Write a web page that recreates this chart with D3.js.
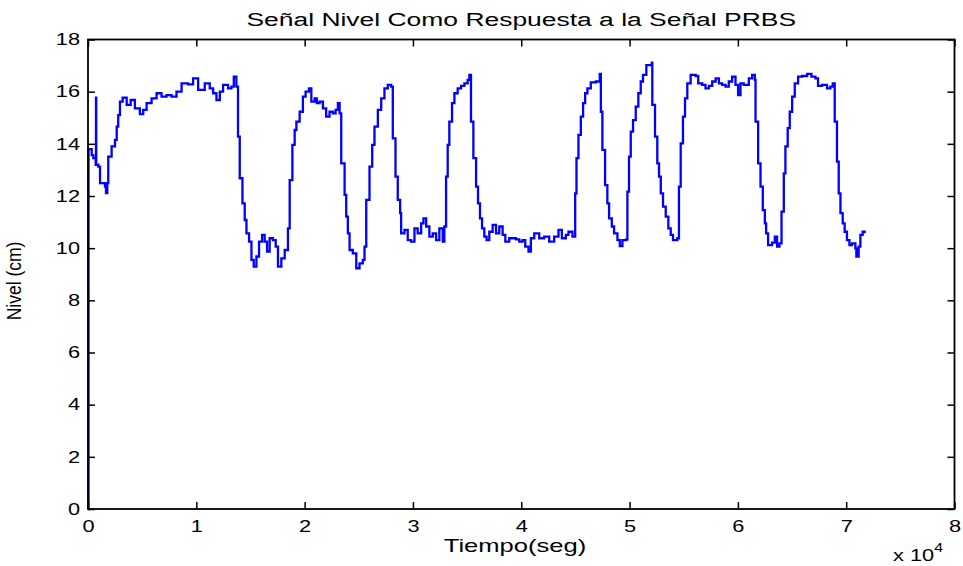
<!DOCTYPE html>
<html>
<head>
<meta charset="utf-8">
<script src="https://cdn.jsdelivr.net/npm/d3@7"></script>
<style>
  html, body { margin: 0; padding: 0; background: #fff; }
  svg { display: block; }
  text { font-family: "Liberation Sans", Arial, Helvetica, sans-serif; fill: #000; }
</style>
</head>
<body>
<svg id="chart" width="963" height="566"></svg>
<script>
// ---- Data ----
const tiempo = [0, 50, 340, 490, 710, 737, 760, 950, 1110, 1570, 1660, 1780, 1870, 2180, 2490, 2650, 2790, 2950, 3200, 3570, 3940, 4330, 4790, 5100, 5410, 5870, 6330, 6790, 7250, 7710, 8170, 8640, 9240, 9700, 10170, 10780, 11240, 11550, 11860, 12170, 12470, 12930, 13240, 13460, 13700, 13850, 14010, 14260, 14470, 14630, 14870, 15090, 15300, 15550, 15790, 16070, 16310, 16530, 16770, 17080, 17330, 17540, 17850, 18160, 18460, 18620, 18870, 19080, 19240, 19540, 19840, 20090, 20400, 20620, 20920, 21130, 21380, 21690, 21990, 22300, 22610, 22860, 23070, 23230, 23380, 23690, 23840, 23990, 24150, 24450, 24770, 25070, 25370, 25530, 25690, 25990, 26240, 26450, 26760, 27070, 27370, 27680, 27990, 28140, 28390, 28600, 28820, 28910, 29220, 29520, 29830, 30140, 30440, 30760, 30970, 31220, 31520, 31830, 32140, 32440, 32750, 32900, 33060, 33210, 33360, 33610, 33830, 34130, 34440, 34750, 35050, 35210, 35360, 35580, 35830, 36010, 36190, 36380, 36590, 36800, 37050, 37360, 37670, 37970, 38280, 38530, 38890, 39510, 39820, 40120, 40370, 40670, 40890, 41200, 41660, 42120, 42580, 43040, 43440, 43750, 44120, 44360, 44730, 44980, 45100, 45280, 45500, 45710, 45900, 46110, 46420, 46890, 47250, 47350, 47490, 47740, 47950, 48110, 48360, 48570, 48880, 49100, 49340, 49710, 49800, 49950, 50110, 50320, 50570, 50810, 51030, 51240, 51550, 52050, 52100, 52350, 52560, 52720, 52880, 53090, 53340, 53580, 53800, 54010, 54410, 54560, 54720, 54930, 55120, 55330, 55640, 56100, 56340, 56710, 57010, 57330, 57630, 57950, 58250, 58550, 58860, 59160, 59470, 59780, 60020, 60240, 60540, 61010, 61320, 61570, 61630, 61870, 62090, 62300, 62490, 62610, 62790, 63160, 63410, 63620, 63840, 64030, 64240, 64390, 64600, 64790, 65010, 65250, 65560, 65930, 66390, 66790, 67160, 67400, 67770, 68230, 68540, 68760, 68940, 69150, 69310, 69470, 69680, 69860, 70070, 70300, 70540, 70850, 70940, 71150, 71310, 71520, 71710];

const nivel = [0, 13.8, 13.57, 13.45, 13.19, 15.77, 13.2, 13.13, 12.49, 12.36, 12.11, 12.49, 13.51, 13.9, 14.15, 14.66, 15.1, 15.62, 15.77, 15.49, 15.68, 15.36, 15.14, 15.3, 15.56, 15.74, 15.94, 15.81, 15.87, 15.81, 16.0, 16.32, 16.28, 16.51, 16.07, 16.32, 16.13, 15.94, 15.68, 16.0, 16.26, 16.13, 16.19, 16.58, 16.19, 14.28, 12.68, 11.72, 11.08, 10.57, 10.25, 9.55, 9.29, 9.68, 10.25, 10.51, 10.25, 9.87, 10.38, 10.31, 10.06, 9.29, 9.61, 9.93, 10.76, 12.61, 13.96, 14.53, 14.85, 15.23, 15.81, 16.0, 16.13, 15.62, 15.74, 15.56, 15.62, 15.36, 15.04, 15.23, 15.17, 15.3, 15.56, 15.17, 13.25, 12.04, 11.21, 10.57, 9.93, 9.8, 9.23, 9.42, 9.55, 10.06, 11.85, 13.13, 13.96, 14.66, 15.3, 15.74, 16.13, 16.26, 16.19, 14.21, 12.74, 11.85, 11.34, 10.57, 10.7, 10.31, 10.25, 10.76, 10.57, 10.95, 11.14, 10.83, 10.44, 10.57, 10.31, 10.76, 10.25, 10.83, 12.74, 13.96, 14.85, 15.56, 15.94, 16.13, 16.22, 16.32, 16.45, 16.64, 14.85, 13.45, 12.36, 11.72, 11.14, 10.76, 10.44, 10.31, 10.63, 10.89, 10.57, 10.83, 10.51, 10.25, 10.38, 10.34, 10.25, 10.31, 10.06, 9.87, 10.38, 10.57, 10.38, 10.44, 10.25, 10.44, 10.7, 10.38, 10.51, 10.63, 10.44, 12.1, 13.45, 14.34, 15.04, 15.56, 15.94, 16.13, 16.36, 16.39, 16.68, 15.23, 13.77, 12.42, 11.72, 11.14, 10.83, 10.57, 10.31, 10.08, 10.31, 10.34, 12.17, 13.51, 14.47, 14.91, 15.43, 15.94, 16.39, 16.64, 17.02, 17.11, 15.49, 14.28, 13.25, 12.74, 12.1, 11.59, 11.21, 10.76, 10.51, 10.31, 10.38, 12.36, 14.02, 15.04, 15.74, 16.32, 16.64, 16.6, 16.32, 16.26, 16.13, 16.22, 16.39, 16.51, 16.32, 16.26, 16.19, 16.39, 16.58, 16.26, 15.87, 16.32, 16.26, 16.51, 16.64, 16.45, 14.85, 13.25, 12.36, 11.46, 10.95, 10.57, 10.12, 10.21, 10.44, 10.06, 10.18, 11.4, 12.87, 13.9, 14.6, 15.23, 15.81, 16.32, 16.58, 16.6, 16.68, 16.58, 16.51, 16.22, 16.26, 16.13, 16.19, 16.32, 14.85, 13.32, 12.1, 11.34, 10.95, 10.63, 10.31, 10.12, 10.18, 9.99, 9.68, 10.06, 10.51, 10.63, 10.57];

const xTicks = [0, 10000, 20000, 30000, 40000, 50000, 60000, 70000, 80000];
const xTickLabels = ["0", "1", "2", "3", "4", "5", "6", "7", "8"];
const yTicks = [0, 2, 4, 6, 8, 10, 12, 14, 16, 18];

const titulo = "Señal Nivel Como Respuesta a la Señal PRBS";
const etiquetaX = "Tiempo(seg)";
const etiquetaY = "Nivel (cm)";

// ---- Layout ----
const svg = d3.select("#chart");
const L = 88, R = 954.5, T = 39.5, B = 509;
const SX = 1.32; // horizontal stretch of glyphs seen in the reference

const x = d3.scaleLinear().domain([0, 80000]).range([L, R]);
const y = d3.scaleLinear().domain([0, 18]).range([B, T]);

// data line
const pts = tiempo.map((t, i) => [t, nivel[i]]);
const line = d3.line().x(d => x(d[0])).y(d => y(d[1])).curve(d3.curveStepAfter);
svg.append("path")
  .datum(pts)
  .attr("d", line)
  .attr("fill", "none")
  .attr("stroke", "#0000ff")
  .attr("stroke-width", 2.3)
  .attr("stroke-linejoin", "miter");

// axes (ticks pointing inward, MATLAB style)
const tk = 7;
const gB = svg.append("g").attr("transform", `translate(0,${B})`)
  .call(d3.axisBottom(x).tickValues(xTicks).tickFormat((d, i) => xTickLabels[i])
    .tickSizeInner(-tk).tickSizeOuter(0).tickPadding(11));
const gT = svg.append("g").attr("transform", `translate(0,${T})`)
  .call(d3.axisTop(x).tickValues(xTicks).tickFormat("").tickSizeInner(-tk).tickSizeOuter(0));
const gL = svg.append("g").attr("transform", `translate(${L},0)`)
  .call(d3.axisLeft(y).tickValues(yTicks).tickSizeInner(-tk).tickSizeOuter(0).tickPadding(8));
const gR = svg.append("g").attr("transform", `translate(${R},0)`)
  .call(d3.axisRight(y).tickValues(yTicks).tickFormat("").tickSizeInner(-tk).tickSizeOuter(0));

[gB, gT, gL, gR].forEach(g => {
  g.select(".domain").remove();
  g.selectAll(".tick line").attr("stroke", "#000").attr("stroke-width", 1.5);
});

gB.selectAll(".tick text")
  .attr("font-size", 16.5)
  .attr("font-family", "Liberation Sans, Arial, sans-serif")
  .attr("fill", "#000")
  .attr("transform", `scale(${SX},1)`);

gL.selectAll(".tick text")
  .attr("font-size", 16.5)
  .attr("font-family", "Liberation Sans, Arial, sans-serif")
  .attr("fill", "#000")
  .attr("x", 0)
  .attr("transform", `translate(-8,0) scale(${SX},1)`);

// frame
svg.append("rect")
  .attr("x", L).attr("y", T)
  .attr("width", R - L).attr("height", B - T)
  .attr("fill", "none").attr("stroke", "#000").attr("stroke-width", 1.8);

// title
svg.append("text")
  .attr("transform", `translate(${(L + R) / 2},26) scale(1.47,1)`)
  .attr("text-anchor", "middle")
  .attr("font-size", 18)
  .text(titulo);

// x label
svg.append("text")
  .attr("transform", `translate(515,552) scale(1.42,1)`)
  .attr("text-anchor", "middle")
  .attr("font-size", 18)
  .text(etiquetaX);

// x 10^4 multiplier
const mult = svg.append("text")
  .attr("transform", `translate(893,561) scale(${SX},1)`)
  .attr("font-size", 16.5);
mult.append("tspan").text("x 10");
mult.append("tspan").attr("font-size", 12).attr("dy", -9).text("4");

// y label
svg.append("text")
  .attr("transform", `translate(21,281) scale(1.15,1) rotate(-90)`)
  .attr("text-anchor", "middle")
  .attr("font-size", 17.5)
  .text(etiquetaY);
</script>
</body>
</html>
